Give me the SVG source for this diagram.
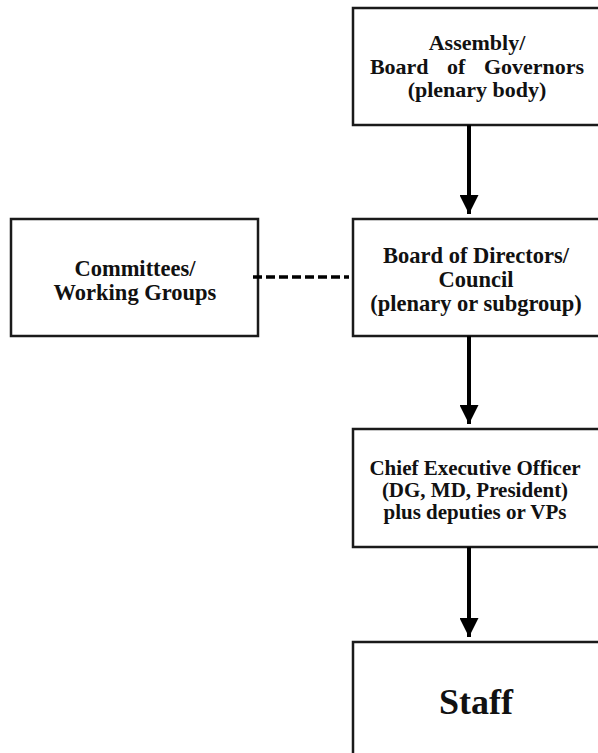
<svg xmlns="http://www.w3.org/2000/svg" width="598" height="753" viewBox="0 0 598 753">
<style>
.box{fill:#fff;stroke:#1a1a1a;stroke-width:2.5}
.t{font-family:"Liberation Serif","Times New Roman",serif;font-weight:bold;font-size:21px;fill:#111;text-anchor:middle}
.l{font-size:22.5px}
.m{font-size:22px}
.conn{stroke:#000;stroke-width:4;fill:none}
.dash{stroke:#000;stroke-width:3.5;stroke-dasharray:9 4;fill:none}
</style>
<defs>
<marker id="ah" markerUnits="userSpaceOnUse" markerWidth="20" markerHeight="19" refX="19" refY="9.5" orient="auto">
<path d="M0,0 L19,9.5 L0,19 Z" fill="#000"/>
</marker>
</defs>
<rect width="598" height="753" fill="#fff"/>
<g id="assembly">
<rect class="box" x="353" y="8" width="252" height="117"/>
<text class="t m" x="477" y="50">Assembly/</text>
<text class="t m" x="477" y="74" style="word-spacing:13px">Board of Governors</text>
<text class="t m" x="477" y="97">(plenary body)</text>
</g>
<g id="board">
<rect class="box" x="353" y="219" width="252" height="117"/>
<text class="t l" x="476" y="263">Board of Directors/</text>
<text class="t l" x="476" y="287">Council</text>
<text class="t l" x="476" y="311">(plenary or subgroup)</text>
</g>
<g id="committees">
<rect class="box" x="11" y="219" width="247" height="117"/>
<text class="t l" x="135" y="276">Committees/</text>
<text class="t l" x="135" y="300">Working Groups</text>
</g>
<g id="ceo">
<rect class="box" x="353" y="429" width="252" height="118"/>
<text class="t" x="475" y="475">Chief Executive Officer</text>
<text class="t" x="475" y="497">(DG, MD, President)</text>
<text class="t" x="475" y="519">plus deputies or VPs</text>
</g>
<g id="staff">
<rect class="box" x="353" y="642" width="252" height="130"/>
<text class="t" x="476" y="714" style="font-size:36px">Staff</text>
</g>
<g id="connectors">
<line class="conn" x1="469" y1="125" x2="469" y2="214" marker-end="url(#ah)"/>
<line class="conn" x1="469" y1="336" x2="469" y2="424" marker-end="url(#ah)"/>
<line class="conn" x1="469" y1="547" x2="469" y2="637" marker-end="url(#ah)"/>
<line class="dash" x1="253" y1="277" x2="349" y2="277"/>
</g>
</svg>
